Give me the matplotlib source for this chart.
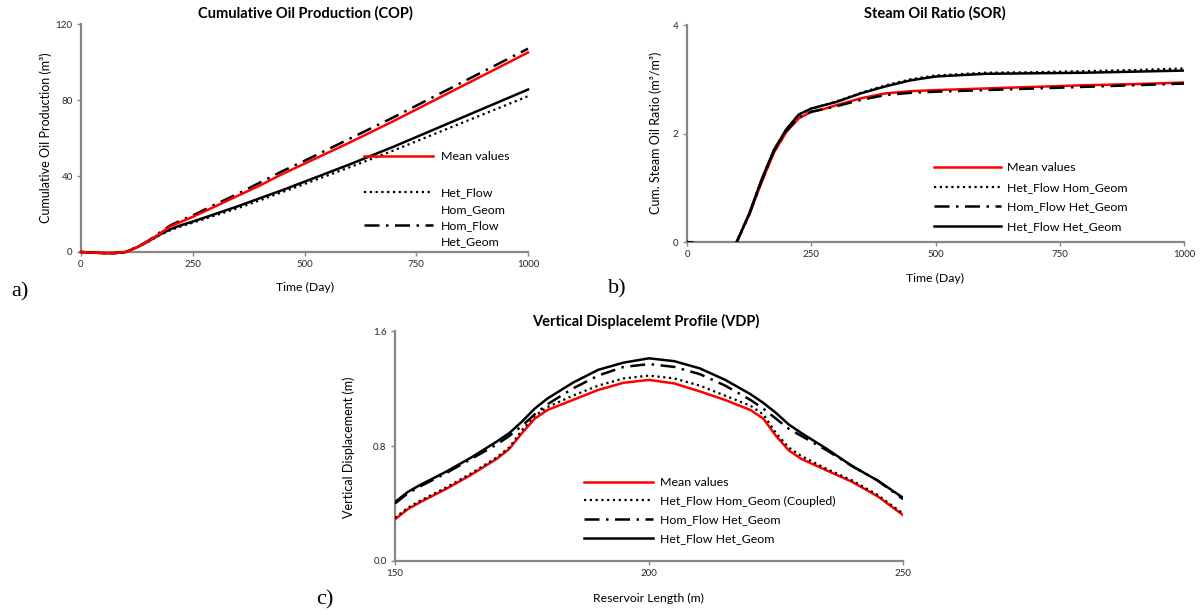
import numpy as np
import matplotlib
matplotlib.use('Agg')
from matplotlib import pyplot as plt
from matplotlib.lines import Line2D

plt.rcParams['font.family'] = ['Lato', 'DejaVu Sans']

# ---- data ----
# a) cumulative oil production (m3) vs time (day)
cop_t = [0, 25, 50, 75, 100, 125, 150, 175, 200, 225, 250, 300, 350, 400,
         450, 500, 600, 700, 800, 900, 1000]
cop_mean = [0, -0.3, -0.6, -0.6, 0, 2.5, 5.5, 9.5, 13.5, 16, 18.5, 24, 29.5, 35,
            41, 46.5, 57.5, 69, 81, 93, 105]
cop_hethom = [0, -0.3, -0.6, -0.6, 0, 2.4, 5.3, 8.7, 11.5, 13.6, 15.4, 19.2, 23, 27.2,
              31.5, 35.8, 44.5, 53.5, 63, 72.5, 82]
cop_homhet = [0, -0.3, -0.6, -0.6, 0, 2.5, 5.8, 10, 14, 16.8, 19.2, 25, 30.5, 36.5,
              42.5, 48, 59.5, 71, 83, 95, 107]
cop_hethet = [0, -0.3, -0.6, -0.6, 0, 2.5, 5.5, 9, 12, 14.2, 16, 20, 24, 28.3,
              32.5, 37, 46, 55.5, 65.5, 75.5, 85.5]

# b) cumulative steam oil ratio vs time (day)
sor_t = [0, 20, 30, 50, 80, 95, 100, 125, 150, 175, 200, 225, 250, 275, 300,
         350, 400, 450, 500, 600, 700, 800, 900, 1000]
sor_mean = [0, -0.03, -0.15, -0.6, -0.6, -0.1, 0.0, 0.5, 1.1, 1.65, 2.03, 2.28, 2.4, 2.45, 2.52,
            2.65, 2.74, 2.78, 2.8, 2.83, 2.86, 2.89, 2.91, 2.94]
sor_hethom = [0, -0.03, -0.15, -0.6, -0.6, -0.1, 0.0, 0.52, 1.15, 1.7, 2.08, 2.35, 2.46, 2.52, 2.59,
              2.75, 2.89, 3.0, 3.07, 3.12, 3.13, 3.15, 3.17, 3.2]
sor_homhet = [0, -0.03, -0.15, -0.6, -0.6, -0.1, 0.0, 0.5, 1.12, 1.68, 2.05, 2.3, 2.4, 2.45, 2.5,
              2.62, 2.71, 2.75, 2.77, 2.8, 2.83, 2.86, 2.89, 2.92]
sor_hethet = [0, -0.03, -0.15, -0.6, -0.6, -0.1, 0.0, 0.52, 1.15, 1.7, 2.08, 2.35, 2.46, 2.52, 2.58,
              2.74, 2.87, 2.98, 3.05, 3.1, 3.11, 3.12, 3.14, 3.16]

# c) vertical displacement (m) vs reservoir length (m)
vdp_x = [150, 152.5, 155, 160, 165, 170, 172.5, 175, 177.5, 180, 185, 190, 195, 200,
         205, 210, 215, 220, 222.5, 225, 227.5, 230, 235, 240, 245, 250]
vdp_mean = [0.29, 0.36, 0.41, 0.50, 0.60, 0.71, 0.78, 0.89, 0.99, 1.05, 1.12, 1.19, 1.24, 1.26,
            1.235, 1.18, 1.12, 1.05, 0.99, 0.87, 0.77, 0.71, 0.63, 0.55, 0.45, 0.32]
vdp_hethom = [0.30, 0.37, 0.42, 0.51, 0.61, 0.72, 0.79, 0.91, 1.01, 1.07, 1.15, 1.22, 1.27, 1.29,
              1.27, 1.22, 1.15, 1.08, 1.02, 0.89, 0.79, 0.73, 0.64, 0.56, 0.46, 0.33]
vdp_homhet = [0.40, 0.47, 0.52, 0.61, 0.71, 0.81, 0.87, 0.94, 1.02, 1.09, 1.20, 1.29, 1.35, 1.37,
              1.35, 1.30, 1.22, 1.12, 1.06, 0.99, 0.92, 0.87, 0.77, 0.66, 0.56, 0.43]
vdp_hethet = [0.41, 0.48, 0.53, 0.62, 0.72, 0.83, 0.89, 0.97, 1.06, 1.13, 1.24, 1.33, 1.38, 1.41,
              1.39, 1.34, 1.26, 1.16, 1.10, 1.03, 0.95, 0.89, 0.78, 0.66, 0.56, 0.44]

W, H = 1202, 615
GRAY = '#878787'
DOTTED = (0, (1, 1.6))
DASHDOT = (0, (6, 2.6, 1, 2.6))
LEG_FS = 8.9


def px_axes(fig, left, top, right, bottom):
    return fig.add_axes([left / W, 1 - bottom / H, (right - left) / W, (bottom - top) / H])


def style(ax):
    for s in ('top', 'right'):
        ax.spines[s].set_visible(False)
    for s in ('left', 'bottom'):
        ax.spines[s].set_color(GRAY)
        ax.spines[s].set_linewidth(1.6)
    ax.tick_params(direction='out', length=3, width=1, color=GRAY,
                   labelsize=7, labelcolor='#262626', pad=3)


def ftext(fig, x, y, s, **kw):
    fig.text(x / W, 1 - y / H, s, ha='center', va='center', **kw)


def px_anchor(x, y):
    return (x / W, 1 - y / H)


fig = plt.figure(figsize=(W / 100, H / 100), dpi=100)

# ---- a) COP ----
ax = px_axes(fig, 81, 24, 528, 252)
style(ax)
l_mean, = ax.plot(cop_t, cop_mean, color='#ff0000', lw=1.8, zorder=6, clip_on=False)
l_hethom, = ax.plot(cop_t, cop_hethom, color='black', lw=1.6, ls=DOTTED, zorder=4, clip_on=False)
l_homhet, = ax.plot(cop_t, cop_homhet, color='black', lw=1.8, ls=DASHDOT, zorder=4, clip_on=False)
ax.plot(cop_t, cop_hethet, color='black', lw=1.8, zorder=5, clip_on=False)
ax.set_xlim(0, 1000)
ax.set_ylim(0, 120)
ax.set_xticks([0, 250, 500, 750, 1000])
ax.set_yticks([0, 40, 80, 120])
leg_kw = dict(loc='upper left', bbox_transform=fig.transFigure, frameon=False, fontsize=LEG_FS,
              handlelength=5.6, handletextpad=0.6, borderpad=0)
leg1 = ax.legend([l_mean], ['Mean values'], bbox_to_anchor=px_anchor(358, 145), **leg_kw)
ax.add_artist(leg1)
blank = Line2D([], [], color='none')
ax.legend([l_hethom, blank, l_homhet, blank], ['Het_Flow', 'Hom_Geom', 'Hom_Flow', 'Het_Geom'],
          bbox_to_anchor=px_anchor(358, 181), labelspacing=0.44, **leg_kw)
ftext(fig, 305, 13, 'Cumulative Oil Production (COP)', fontsize=10.5, fontweight='bold')
ftext(fig, 305, 287, 'Time (Day)', fontsize=8.8)
ftext(fig, 46, 138, 'Cumulative Oil Production (m³)', fontsize=9, rotation=90)
ftext(fig, 20, 292, 'a)', fontsize=16, family='Liberation Serif')

# ---- b) SOR ----
ax = px_axes(fig, 687, 25, 1184, 242)
style(ax)
ax.plot(sor_t, sor_mean, color='#ff0000', lw=1.8, label='Mean values', zorder=4)
ax.plot(sor_t, sor_hethom, color='black', lw=1.6, ls=DOTTED, label='Het_Flow Hom_Geom', zorder=4)
ax.plot(sor_t, sor_homhet, color='black', lw=1.8, ls=DASHDOT, label='Hom_Flow Het_Geom', zorder=5)
ax.plot(sor_t, sor_hethet, color='black', lw=1.8, label='Het_Flow Het_Geom', zorder=4)
ax.set_xlim(0, 1000)
ax.set_ylim(0, 4)
ax.set_xticks([0, 250, 500, 750, 1000])
ax.set_yticks([0, 2, 4])
ax.legend(loc='upper left', bbox_to_anchor=px_anchor(928, 156), bbox_transform=fig.transFigure,
          frameon=False, fontsize=LEG_FS, handlelength=5.4, handletextpad=0.5,
          labelspacing=0.7, borderpad=0)
ftext(fig, 935, 13, 'Steam Oil Ratio (SOR)', fontsize=10.5, fontweight='bold')
ftext(fig, 935, 278, 'Time (Day)', fontsize=8.8)
ftext(fig, 656, 133, 'Cum. Steam Oil Ratio (m³/m³)', fontsize=9, rotation=90)
ftext(fig, 617, 289, 'b)', fontsize=16, family='Liberation Serif')

# ---- c) VDP ----
ax = px_axes(fig, 395, 331, 903, 561)
style(ax)
ax.plot(vdp_x, vdp_mean, color='#ff0000', lw=1.8, label='Mean values', zorder=4)
ax.plot(vdp_x, vdp_hethom, color='black', lw=1.6, ls=DOTTED, label='Het_Flow Hom_Geom (Coupled)', zorder=5)
ax.plot(vdp_x, vdp_homhet, color='black', lw=1.8, ls=DASHDOT, label='Hom_Flow Het_Geom', zorder=4)
ax.plot(vdp_x, vdp_hethet, color='black', lw=1.8, label='Het_Flow Het_Geom', zorder=4)
ax.set_xlim(150, 250)
ax.set_ylim(0, 1.6)
ax.set_xticks([150, 200, 250])
ax.set_yticks([0.0, 0.8, 1.6])
ax.yaxis.set_major_formatter(matplotlib.ticker.FormatStrFormatter('%.1f'))
ax.legend(loc='upper left', bbox_to_anchor=px_anchor(578, 471), bbox_transform=fig.transFigure,
          frameon=False, fontsize=LEG_FS, handlelength=5.6, handletextpad=0.5,
          labelspacing=0.61, borderpad=0)
ftext(fig, 646, 321, 'Vertical Displacelemt Profile (VDP)', fontsize=10.5, fontweight='bold')
ftext(fig, 648, 598, 'Reservoir Length (m)', fontsize=8.8)
ftext(fig, 349, 447, 'Vertical Displacement (m)', fontsize=9, rotation=90)
ftext(fig, 325, 600, 'c)', fontsize=16, family='Liberation Serif')

plt.savefig('out.png', dpi=100)
